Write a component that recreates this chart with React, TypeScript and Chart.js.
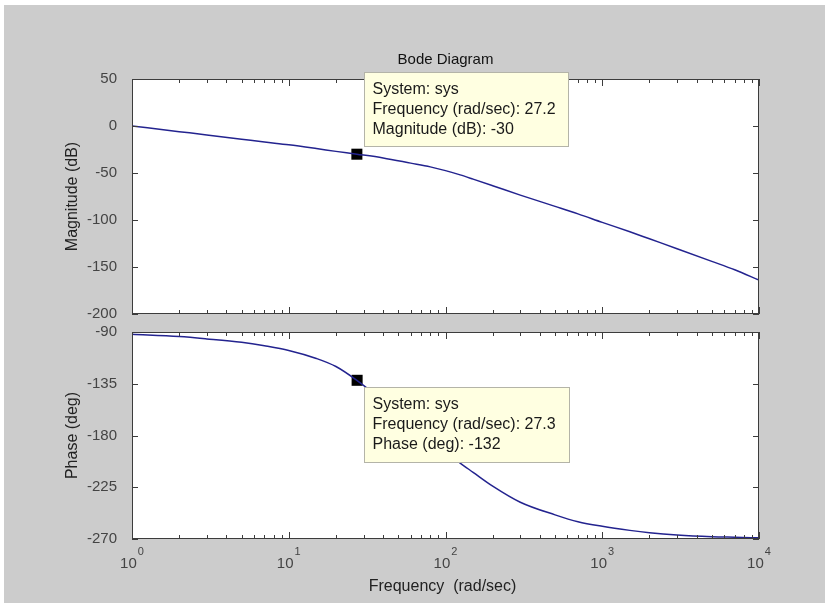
import React, { useEffect, useRef } from "react";
import { Chart, registerables } from "chart.js";

Chart.register(...registerables);

// ---- data ----
const freqs = [1, 2, 3, 5, 7, 10, 15, 20, 27.2, 40, 60, 80, 100, 124, 150, 200, 300, 500, 700, 1000, 1500, 2000, 3000, 5000, 7000, 10000];
const magnitudeDb = [0, -6, -9.5, -14, -17, -20, -24, -27, -30, -34, -39.5, -43.5, -47.5, -52, -56.5, -63.5, -73.5, -85.5, -93.5, -102.5, -112.5, -120, -130.5, -144, -153, -164];
const phaseDeg = [-92, -94, -96, -99, -102, -106, -113, -120, -132, -150, -170, -184, -194, -204, -212, -224, -238, -249, -255, -259, -262.5, -264.5, -266.5, -268, -268.5, -269];

const magTicks = [50, 0, -50, -100, -150, -200];
const phaseTicks = [-90, -135, -180, -225, -270];
const decades = [1, 10, 100, 1000, 10000];
const decadeExponents = ["0", "1", "2", "3", "4"];

const magMarkerFreq = [27.2];
const magMarkerValue = [-30];
const phaseMarkerFreq = [27.3];
const phaseMarkerValue = [-132];

const magTipLines = ["System: sys", "Frequency (rad/sec): 27.2", "Magnitude (dB): -30"];
const phaseTipLines = ["System: sys", "Frequency (rad/sec): 27.3", "Phase (deg): -132"];

const titleText = "Bode Diagram";
const magLabel = "Magnitude (dB)";
const phaseLabel = "Phase (deg)";
const xLabel = "Frequency  (rad/sec)";

// ---- styles ----
const FONT = "'Liberation Sans', Arial, Helvetica, sans-serif";
const LINE_COLOR = "#23238f";
const AXIS_COLOR = "#3c3c3c";
const TEXT_COLOR = "#444444";
const Y_AXIS_WIDTH = 60;

type FrameOpts = {
  yTicks: number[];
  yLabel: string;
  title?: string;
  xLabels?: boolean;
  tip: { lines: string[]; dx: number; dy: number; w: number; h: number };
};

function makeFramePlugin(o: FrameOpts) {
  return {
    id: "matlabFrame",
    beforeDraw(chart: any) {
      const { ctx, chartArea: a } = chart;
      ctx.save();
      ctx.fillStyle = "#ffffff";
      ctx.fillRect(a.left, a.top, a.right - a.left, a.bottom - a.top);
      ctx.restore();
    },
    afterDraw(chart: any) {
      const { ctx, chartArea: a } = chart;
      const xs = chart.scales.x;
      const ys = chart.scales.y;
      ctx.save();
      // frame
      ctx.strokeStyle = AXIS_COLOR;
      ctx.lineWidth = 1;
      ctx.strokeRect(Math.round(a.left) + 0.5, Math.round(a.top) + 0.5, Math.round(a.right - a.left) - 1, Math.round(a.bottom - a.top) - 1);
      // x ticks (decades + minor), top & bottom, pointing inward
      ctx.beginPath();
      for (let d = 0; d < decades.length; d++) {
        const base = decades[d];
        for (let m = 1; m <= 9; m++) {
          const v = base * m;
          if (v > decades[decades.length - 1]) break;
          const px = Math.round(xs.getPixelForValue(v)) + 0.5;
          const len = m === 1 ? 7 : 4;
          ctx.moveTo(px, a.bottom);
          ctx.lineTo(px, a.bottom - len);
          ctx.moveTo(px, a.top);
          ctx.lineTo(px, a.top + len);
        }
      }
      // y ticks left & right
      for (const t of o.yTicks) {
        const py = Math.round(ys.getPixelForValue(t)) + 0.5;
        ctx.moveTo(a.left, py);
        ctx.lineTo(a.left + 6, py);
        ctx.moveTo(a.right, py);
        ctx.lineTo(a.right - 6, py);
      }
      ctx.stroke();

      // y axis label
      ctx.fillStyle = "#222222";
      ctx.font = `16px ${FONT}`;
      ctx.textAlign = "center";
      ctx.textBaseline = "middle";
      ctx.save();
      ctx.translate(73, (a.top + a.bottom) / 2);
      ctx.rotate(-Math.PI / 2);
      ctx.fillText(o.yLabel, 0, 0);
      ctx.restore();

      if (o.title) {
        ctx.font = `15px ${FONT}`;
        ctx.fillStyle = "#111111";
        ctx.fillText(o.title, (a.left + a.right) / 2, a.top - 19);
      }

      if (o.xLabels) {
        ctx.fillStyle = TEXT_COLOR;
        for (let i = 0; i < decades.length; i++) {
          const px = xs.getPixelForValue(decades[i]);
          ctx.font = `15px ${FONT}`;
          const wBase = ctx.measureText("10").width;
          ctx.font = `11px ${FONT}`;
          const wExp = ctx.measureText(decadeExponents[i]).width;
          const start = px - (wBase + wExp + 1) / 2;
          ctx.textAlign = "left";
          ctx.font = `15px ${FONT}`;
          ctx.fillText("10", start, a.bottom + 25);
          ctx.font = `11px ${FONT}`;
          ctx.fillText(decadeExponents[i], start + wBase + 1, a.bottom + 13);
        }
        ctx.textAlign = "center";
        ctx.font = `16px ${FONT}`;
        ctx.fillStyle = "#222222";
        ctx.fillText(xLabel, (a.left + a.right) / 2 - 3, a.bottom + 48);
      }

      // data tip
      const meta = chart.getDatasetMeta(1);
      const pt = meta.data[0];
      if (pt) {
        const bx = Math.round(pt.x + o.tip.dx) + 0.5;
        const by = Math.round(pt.y + o.tip.dy) + 0.5;
        ctx.fillStyle = "#ffffe1";
        ctx.fillRect(bx, by, o.tip.w, o.tip.h);
        ctx.strokeStyle = "#b4b4a8";
        ctx.lineWidth = 1;
        ctx.strokeRect(bx, by, o.tip.w, o.tip.h);
        ctx.fillStyle = "#1a1a1a";
        ctx.font = `16px ${FONT}`;
        ctx.textAlign = "left";
        ctx.textBaseline = "middle";
        o.tip.lines.forEach((line, i) => {
          ctx.fillText(line, bx + 8, by + 17 + i * 20);
        });
      }
      ctx.restore();
    },
  };
}

function makeConfig(
  values: number[],
  markerF: number[],
  markerV: number[],
  yMin: number,
  yMax: number,
  yTicks: number[],
  padding: { top: number; bottom: number; left: number; right: number },
  frame: FrameOpts
): any {
  return {
    type: "line",
    data: {
      datasets: [
        {
          data: freqs.map((f, i) => ({ x: f, y: values[i] })),
          borderColor: LINE_COLOR,
          borderWidth: 1.5,
          pointRadius: 0,
          cubicInterpolationMode: "monotone",
          fill: false,
        },
        {
          data: markerF.map((f, i) => ({ x: f, y: markerV[i] })),
          showLine: false,
          pointStyle: "rect",
          pointRadius: 7.8,
          backgroundColor: "#000000",
          borderColor: "#000000",
          borderWidth: 0,
        },
      ],
    },
    options: {
      responsive: false,
      animation: false,
      events: [],
      devicePixelRatio: 1,
      layout: { padding },
      plugins: { legend: { display: false }, tooltip: { enabled: false }, title: { display: false } },
      scales: {
        x: { type: "logarithmic", min: 1, max: 10000, display: false },
        y: {
          type: "linear",
          min: yMin,
          max: yMax,
          grid: { display: false },
          border: { display: false },
          afterBuildTicks: (s: any) => {
            s.ticks = yTicks.map((v) => ({ value: v }));
          },
          afterFit: (s: any) => {
            s.width = Y_AXIS_WIDTH;
          },
          ticks: {
            padding: 7,
            autoSkip: false,
            color: TEXT_COLOR,
            font: { family: FONT, size: 15 },
            callback: (v: any) => String(v),
          },
        },
      },
    },
    plugins: [makeFramePlugin(frame)],
  };
}

export default function App() {
  const topRef = useRef<HTMLCanvasElement | null>(null);
  const botRef = useRef<HTMLCanvasElement | null>(null);

  useEffect(() => {
    const W = 825;
    const H = 603;
    const top = new Chart(
      topRef.current as HTMLCanvasElement,
      makeConfig(magnitudeDb, magMarkerFreq, magMarkerValue, -200, 50, magTicks,
        { top: 79, bottom: H - 314, left: 132 - Y_AXIS_WIDTH, right: W - 759 },
        { yTicks: magTicks, yLabel: magLabel, title: titleText, tip: { lines: magTipLines, dx: 7, dy: -82, w: 204, h: 74 } })
    );
    const bot = new Chart(
      botRef.current as HTMLCanvasElement,
      makeConfig(phaseDeg, phaseMarkerFreq, phaseMarkerValue, -270, -90, phaseTicks,
        { top: 332, bottom: H - 539, left: 132 - Y_AXIS_WIDTH, right: W - 759 },
        { yTicks: phaseTicks, yLabel: phaseLabel, xLabels: true, tip: { lines: phaseTipLines, dx: 7, dy: 7, w: 205, h: 75 } })
    );
    return () => {
      top.destroy();
      bot.destroy();
    };
  }, []);

  const canvasStyle: React.CSSProperties = { position: "absolute", left: 0, top: 0, width: 825, height: 603 };
  return (
    <div style={{ position: "fixed", left: 0, top: 0, width: 825, height: 603, background: "#ffffff", overflow: "hidden" }}>
      <div style={{ position: "absolute", left: 4, top: 5, right: 0, bottom: 0, background: "#cccccc" }} />
      <canvas ref={botRef} width={825} height={603} style={canvasStyle} />
      <canvas ref={topRef} width={825} height={603} style={canvasStyle} />
    </div>
  );
}
